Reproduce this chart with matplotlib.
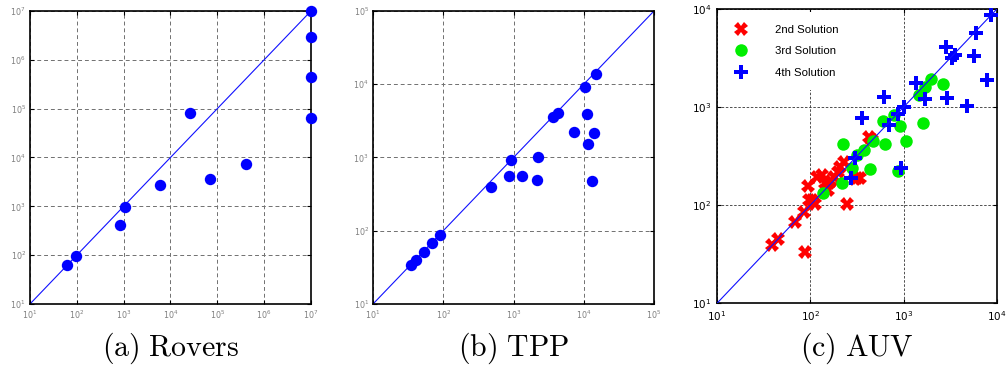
import matplotlib
matplotlib.use("Agg")
import matplotlib.pyplot as plt
from matplotlib.ticker import LogLocator, NullLocator

plt.rcParams['mathtext.fontset'] = 'dejavusans'

# (a) Rovers
rovers_x = [63, 95, 853, 1074, 6010, 25500, 70500, 401000, 1e7, 1e7, 1e7, 1e7]
rovers_y = [63, 94, 406, 949, 2760, 80700, 3600, 7200, 1e7, 2.94e6, 454000, 65800]

# (b) TPP
tpp_x = [35, 40.4, 52.5, 70, 90, 474, 853, 912, 1306, 2133, 2203, 3680, 4290,
         7310, 10360, 11200, 11400, 13300, 14200, 14700]
tpp_y = [34, 39.8, 51.8, 69, 88, 398, 551, 910, 556, 495, 1011, 3620, 4110,
         2215, 9100, 3980, 1535, 471, 2190, 13800]

# (c) AUV
auv2_x = [39, 45, 68, 85, 87, 95, 98, 105, 112, 118, 132, 145, 155, 157, 165,
          180, 200, 210, 228, 245, 300, 316, 343, 422, 460]
auv2_y = [39, 45, 68, 86, 33, 158, 113, 113, 104, 195, 203, 167, 143, 167, 175,
          195, 220, 247, 277, 104, 185, 188, 188, 499, 462]
auv3_x = [137, 218, 224, 279, 316, 372, 432, 469, 595, 636, 780, 869, 920,
          1050, 1445, 1596, 1706, 1963, 2613]
auv3_y = [134, 170, 421, 238, 325, 366, 234, 451, 726, 421, 830, 225, 646,
          448, 1327, 684, 1614, 1933, 1706]
auv4_x = [275, 298, 357, 610, 690, 861, 944, 1000, 1365, 1679, 2911, 2866,
          3297, 3574, 4775, 5714, 5900, 7820, 8690]
auv4_y = [191, 301, 769, 1259, 658, 845, 238, 995, 1775, 1202, 1230, 4130,
          3148, 3398, 1026, 3320, 5650, 1888, 8690]

labels = ["(a) Rovers", "(b) TPP", "(c) AUV"]
legend_labels = ["2nd Solution", "3rd Solution", "4th Solution"]

fig = plt.figure(figsize=(10.06, 3.67), dpi=100)
ax_a = fig.add_axes([0.0298, 0.1717, 0.2793, 0.7984])
ax_b = fig.add_axes([0.3708, 0.1717, 0.2793, 0.7984])
ax_c = fig.add_axes([0.7127, 0.1736, 0.2783, 0.8020])


def style_gray(ax, lo, hi):
    ax.set_xscale('log')
    ax.set_yscale('log')
    ax.set_xlim(lo, hi)
    ax.set_ylim(lo, hi)
    ax.xaxis.set_major_locator(LogLocator(base=10, numticks=20))
    ax.yaxis.set_major_locator(LogLocator(base=10, numticks=20))
    ax.xaxis.set_minor_locator(NullLocator())
    ax.yaxis.set_minor_locator(NullLocator())
    ax.grid(True, which='major', linestyle=(0, (4, 3)), color='#707070', linewidth=0.7)
    ax.tick_params(direction='in', top=True, right=True, length=3, width=0.8,
                   labelsize=5.8, labelcolor='#808080', pad=3)
    for s in ax.spines.values():
        s.set_linewidth(1.2)
    ax.plot([lo, hi], [lo, hi], color='#1010ff', linewidth=0.8, zorder=2)


style_gray(ax_a, 10, 1e7)
ax_a.plot(rovers_x, rovers_y, 'o', color='#0000ff', markersize=8.2,
          markeredgewidth=0, clip_on=False, zorder=3)

style_gray(ax_b, 10, 1e5)
ax_b.plot(tpp_x, tpp_y, 'o', color='#0000ff', markersize=8.2,
          markeredgewidth=0, clip_on=False, zorder=3)

# panel c
ax = ax_c
ax.set_xscale('log')
ax.set_yscale('log')
ax.set_xlim(10, 1e4)
ax.set_ylim(10, 1e4)
ax.xaxis.set_major_locator(LogLocator(base=10, numticks=20))
ax.yaxis.set_major_locator(LogLocator(base=10, numticks=20))
ax.xaxis.set_minor_locator(NullLocator())
ax.yaxis.set_minor_locator(NullLocator())
ax.grid(True, which='major', linestyle=(0, (3, 2)), color='#333333', linewidth=0.6)
ax.tick_params(direction='in', top=True, right=True, length=3, width=0.8,
               labelsize=7.5, labelcolor='black', pad=4)
for s in ax.spines.values():
    s.set_linewidth(1.2)
ax.plot([10, 1e4], [10, 1e4], color='#1010ff', linewidth=0.8, zorder=4)
ax.plot(auv2_x, auv2_y, 'X', color='#ff0000', markersize=10, markeredgewidth=0,
        linestyle='none', label=legend_labels[0], zorder=3, clip_on=False)
ax.plot(auv3_x, auv3_y, 'o', color='#00ee00', markersize=9, markeredgewidth=0,
        linestyle='none', label=legend_labels[1], zorder=3, clip_on=False)
ax.plot(auv4_x, auv4_y, 'P', color='#0000ff', markersize=9.5, markeredgewidth=0,
        linestyle='none', label=legend_labels[2], zorder=3, clip_on=False)
leg = ax.legend(loc='upper left', frameon=True, framealpha=1,
                edgecolor='none', borderpad=1.1, handletextpad=2.2,
                labelspacing=1.0, borderaxespad=0.3, handlelength=1.5,
                prop={'family': 'Liberation Sans', 'size': 8.2})
leg.set_zorder(5)

for a, lab in zip([ax_a, ax_b, ax_c], labels):
    a.text(0.5, -0.152, r'$\mathrm{' + lab.replace(' ', r'\ ') + '}$',
           transform=a.transAxes, ha='center', va='center',
           fontsize=21.5, math_fontfamily='cm')

fig.savefig('out.png', dpi=100)
